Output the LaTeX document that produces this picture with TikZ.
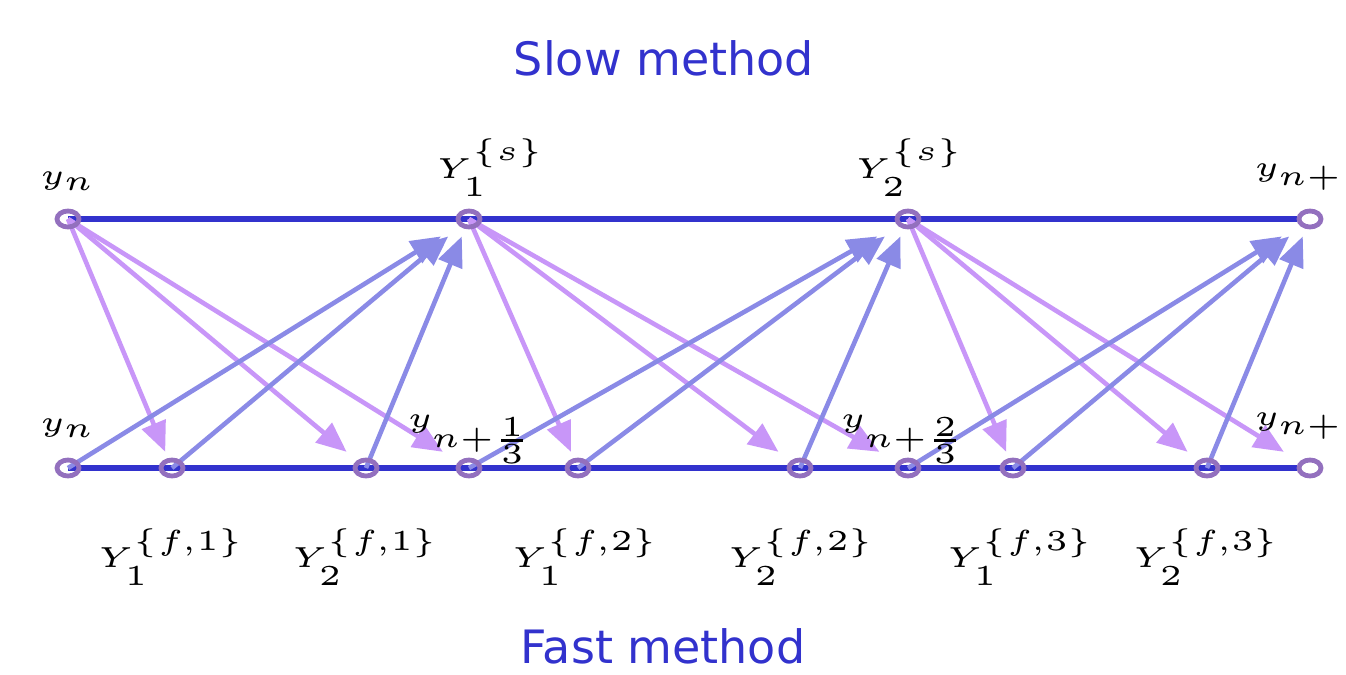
\documentclass[tikz,border=0pt]{standalone}
\usepackage{fontspec}
\setsansfont{DejaVu Sans}
\usetikzlibrary{arrows.meta,positioning,shapes.geometric,calc,backgrounds}
\definecolor{railblue}{HTML}{3232CD}
\definecolor{ringpurple}{HTML}{9370BE}
\definecolor{downpink}{HTML}{C896F8}
\definecolor{upblue}{HTML}{8A8AE6}
\newcommand{\lbl}[1]{\scalebox{3.25}[2.9]{\fontsize{5}{6}\selectfont$#1$}}
\tikzset{
  dot/.style={ellipse,draw=ringpurple,line width=2.4pt,minimum width=11pt,
              minimum height=8pt,inner sep=0pt},
  rail/.style={draw=railblue,line width=2.6pt},
  dn/.style={-{Triangle[length=15pt,width=12.5pt]},line width=2.3pt,draw=downpink},
  upa/.style={-{Triangle[length=15pt,width=12.5pt]},line width=2.3pt,draw=upblue},
  lab/.style={inner sep=0pt},
  ttl/.style={font=\sffamily\fontsize{23}{28}\selectfont,text=railblue,inner sep=0pt}
}

\begin{document}
\begin{tikzpicture}[x=0.5pt,y=-0.5pt]
  \useasboundingbox (0,0) rectangle (1346,675);
  \node[ttl,anchor=base] (slow) at (664,75) {Slow method};
  \node[ttl,anchor=base] (fast) at (663,663) {Fast method};
  % slow grid
  \node[dot] (t0) at (68,219) {};
  \node[dot] (t1) at (469,219) {};
  \node[dot] (t2) at (908,219) {};
  \node[dot] (t3) at (1310,219) {};
  % fast grid
  \node[dot] (b0) at (68,468) {};
  \node[dot] (b1) at (172,468) {};
  \node[dot] (b2) at (366,468) {};
  \node[dot] (b3) at (469,468) {};
  \node[dot] (b4) at (578,468) {};
  \node[dot] (b5) at (800,468) {};
  \node[dot] (b6) at (908,468) {};
  \node[dot] (b7) at (1013,468) {};
  \node[dot] (b8) at (1207,468) {};
  \node[dot] (b9) at (1310,468) {};
  % labels
  \node[lab,above=9pt of t0] (lt0) {\lbl{y_n}};
  \node[lab,above=6pt of t1,xshift=11pt] (lt1) {\lbl{Y_1^{\{s\}}}};
  \node[lab,above=6pt of t2,xshift=1pt] (lt2) {\lbl{Y_2^{\{s\}}}};
  \node[lab,above=9pt of t3,xshift=-5.5pt] (lt3) {\lbl{y_{n+}}};
  \node[lab,above=10pt of b0] (lb0) {\lbl{y_n}};
  \node[lab,above=-3pt of b3,xshift=1pt] (lb3) {\lbl{y_{n+\frac{1}{3}}}};
  \node[lab,above=-3pt of b6,xshift=-2pt] (lb6) {\lbl{y_{n+\frac{2}{3}}}};
  \node[lab,above=9pt of b9,xshift=-5.5pt] (lb9) {\lbl{y_{n+}}};
  \node[lab,below=25pt of b1] (lb1) {\lbl{Y_1^{\{f,1\}}}};
  \node[lab,below=25pt of b2] (lb2) {\lbl{Y_2^{\{f,1\}}}};
  \node[lab,below=25pt of b4,xshift=4pt] (lb4) {\lbl{Y_1^{\{f,2\}}}};
  \node[lab,below=25pt of b5,xshift=1pt] (lb5) {\lbl{Y_2^{\{f,2\}}}};
  \node[lab,below=25pt of b7,xshift=4pt] (lb7) {\lbl{Y_1^{\{f,3\}}}};
  \node[lab,below=25pt of b8] (lb8) {\lbl{Y_2^{\{f,3\}}}};
  \begin{scope}[on background layer]
    \draw[rail] (t0.center) -- (t3.west);
    \draw[rail] (b0.center) -- (b9.west);
    \foreach \s/\e in {t0/b1,t0/b2,t0/b3,t1/b4,t1/b5,t1/b6,t2/b7,t2/b8,t2/b9}
      \draw[dn] (\s.center) -- ($(\s)!.935!(\e)$);
    \foreach \s/\e in {b0/t1,b1/t1,b2/t1,b3/t2,b4/t2,b5/t2,b6/t3,b7/t3,b8/t3}
      \draw[upa] (\s.center) -- ($(\s)!.93!(\e)$);
  \end{scope}
\end{tikzpicture}
\end{document}
